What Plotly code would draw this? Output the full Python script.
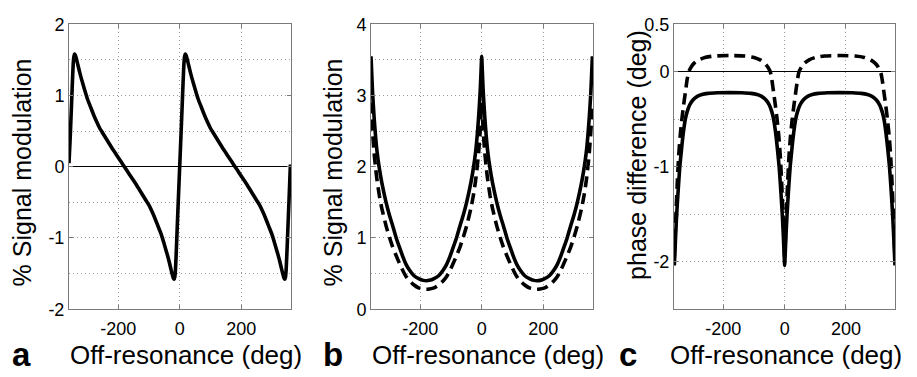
import plotly.graph_objects as go

# ---------------- data ----------------
# Panel a: % signal modulation (solid)
a_x = [-360, -356, -352, -349, -346, -344, -342, -339, -335, -330, -325, -320, -310, -300, -290, -280, -270,
       -260, -250, -240, -230, -220, -210, -200, -190, -180,
       -170, -160, -150, -140, -130, -120, -110, -100, -90, -80, -70, -60, -50, -40, -35, -30, -25, -21,
       -18, -16, -14, -11, -8, -4, 0,
       4, 8, 11, 14, 16, 18, 21, 25, 30, 35, 40, 50, 60, 70, 80, 90, 100, 110, 120, 130, 140, 150, 160, 170, 180,
       190, 200, 210, 220, 230, 240, 250, 260, 270, 280, 290, 300, 310, 320, 325, 330, 335, 339, 342, 344,
       346, 349, 352, 356, 360]
a_y = [0.05, 0.42, 0.85, 1.18, 1.46, 1.55, 1.58, 1.56, 1.50, 1.41, 1.32, 1.24, 1.09, 0.95, 0.84, 0.73, 0.63,
       0.54, 0.47, 0.40, 0.33, 0.26, 0.195, 0.13, 0.065, 0,
       -0.065, -0.13, -0.195, -0.26, -0.33, -0.40, -0.47, -0.54, -0.63, -0.73, -0.84, -0.95, -1.09, -1.24,
       -1.32, -1.41, -1.50, -1.56, -1.58, -1.55, -1.46, -1.18, -0.85, -0.42, 0,
       0.42, 0.85, 1.18, 1.46, 1.55, 1.58, 1.56, 1.50, 1.41, 1.32, 1.24, 1.09, 0.95, 0.84, 0.73, 0.63, 0.54,
       0.47, 0.40, 0.33, 0.26, 0.195, 0.13, 0.065, 0,
       -0.065, -0.13, -0.195, -0.26, -0.33, -0.40, -0.47, -0.54, -0.63, -0.73, -0.84, -0.95, -1.09, -1.24,
       -1.32, -1.41, -1.50, -1.56, -1.58, -1.55, -1.46, -1.18, -0.85, -0.42, 0.03]

# Panel b: % signal modulation, solid and dashed
b_x = [-360, -358, -355, -350, -345, -340, -333, -325, -311, -300, -290, -278, -265, -255, -246, -235, -220,
       -205, -190, -180,
       -170, -155, -140, -125, -114, -105, -95, -82, -70, -60, -49, -35, -27, -20, -15, -10, -5, -2, 0,
       2, 5, 10, 15, 20, 27, 35, 49, 60, 70, 82, 95, 105, 114, 125, 140, 155, 170, 180,
       190, 205, 220, 235, 246, 255, 265, 278, 290, 300, 311, 325, 333, 340, 345, 350, 355, 358, 360]
b_solid = [3.55, 3.35, 3.05, 2.7, 2.42, 2.2, 1.98, 1.78, 1.5, 1.32, 1.18, 1.0, 0.84, 0.72, 0.63, 0.55, 0.47,
           0.43, 0.405, 0.40,
           0.405, 0.43, 0.47, 0.55, 0.63, 0.72, 0.84, 1.0, 1.18, 1.32, 1.5, 1.78, 1.98, 2.2, 2.42, 2.7, 3.05,
           3.35, 3.55,
           3.35, 3.05, 2.7, 2.42, 2.2, 1.98, 1.78, 1.5, 1.32, 1.18, 1.0, 0.84, 0.72, 0.63, 0.55, 0.47, 0.43,
           0.405, 0.40,
           0.405, 0.43, 0.47, 0.55, 0.63, 0.72, 0.84, 1.0, 1.18, 1.32, 1.5, 1.78, 1.98, 2.2, 2.42, 2.7, 3.05,
           3.35, 3.55]
b_dash = [2.9, 2.75, 2.5, 2.2, 1.98, 1.8, 1.6, 1.42, 1.17, 1.01, 0.88, 0.75, 0.62, 0.53, 0.46, 0.4, 0.34,
          0.3, 0.285, 0.28,
          0.285, 0.3, 0.34, 0.4, 0.46, 0.53, 0.62, 0.75, 0.88, 1.01, 1.17, 1.42, 1.6, 1.8, 1.98, 2.2, 2.5,
          2.75, 2.9,
          2.75, 2.5, 2.2, 1.98, 1.8, 1.6, 1.42, 1.17, 1.01, 0.88, 0.75, 0.62, 0.53, 0.46, 0.4, 0.34, 0.3,
          0.285, 0.28,
          0.285, 0.3, 0.34, 0.4, 0.46, 0.53, 0.62, 0.75, 0.88, 1.01, 1.17, 1.42, 1.6, 1.8, 1.98, 2.2, 2.5,
          2.75, 2.9]

# Panel c: phase difference (deg), solid and dashed
c_solid_x = [-360, -358, -356, -353, -350, -346, -342, -336, -330, -324, -318, -310, -300, -285, -270, -250,
             -220, -180,
             -140, -110, -90, -75, -60, -50, -42, -36, -30, -24, -18, -14, -10, -7, -4, -2, 0,
             2, 4, 7, 10, 14, 18, 24, 30, 36, 42, 50, 60, 75, 90, 110, 140, 180,
             220, 250, 270, 285, 300, 310, 318, 324, 330, 336, 342, 346, 350, 353, 356, 358, 360]
c_solid_y = [-2.04, -1.9, -1.75, -1.55, -1.38, -1.18, -1.0, -0.8, -0.63, -0.5, -0.42, -0.35, -0.3, -0.26,
             -0.24, -0.228, -0.222, -0.22,
             -0.222, -0.228, -0.24, -0.26, -0.3, -0.35, -0.42, -0.5, -0.63, -0.8, -1.0, -1.18, -1.38, -1.55,
             -1.75, -1.9, -2.04,
             -1.9, -1.75, -1.55, -1.38, -1.18, -1.0, -0.8, -0.63, -0.5, -0.42, -0.35, -0.3, -0.26, -0.24,
             -0.228, -0.222, -0.22,
             -0.222, -0.228, -0.24, -0.26, -0.3, -0.35, -0.42, -0.5, -0.63, -0.8, -1.0, -1.18, -1.38, -1.55,
             -1.75, -1.9, -2.04]
c_dash_x = [-360, -357, -354, -350, -346, -341, -336, -330, -324, -318, -313, -305, -295, -280, -260, -230, -180,
            -130, -100, -80, -65, -55, -47, -42, -36, -30, -24, -19, -14, -10, -6, -3, 0,
            3, 6, 10, 14, 19, 24, 30, 36, 42, 47, 55, 65, 80, 100, 130, 180,
            230, 260, 280, 295, 305, 313, 318, 324, 330, 336, 341, 346, 350, 354, 357, 360]
c_dash_y = [-1.95, -1.7, -1.45, -1.15, -0.9, -0.68, -0.52, -0.36, -0.22, -0.08, 0.0, 0.05, 0.09, 0.125, 0.15,
            0.165, 0.17,
            0.165, 0.15, 0.125, 0.09, 0.05, 0.0, -0.08, -0.22, -0.36, -0.52, -0.68, -0.9, -1.15, -1.45, -1.7, -1.95,
            -1.7, -1.45, -1.15, -0.9, -0.68, -0.52, -0.36, -0.22, -0.08, 0.0, 0.05, 0.09, 0.125, 0.15, 0.165, 0.17,
            0.165, 0.15, 0.125, 0.09, 0.05, 0.0, -0.08, -0.22, -0.36, -0.52, -0.68, -0.9, -1.15, -1.45, -1.7, -1.95]

# Tick labels
x_tickvals = [-200, 0, 200]
x_ticktext = ["-200", "0", "200"]
a_tickvals = [-2, -1, 0, 1, 2]
a_ticktext = ["-2", "-1", "0", "1", "2"]
a_minor = [-1.5, -0.5, 0.5, 1.5]
b_tickvals = [0, 1, 2, 3, 4]
b_ticktext = ["0", "1", "2", "3", "4"]
b_minor = [0.5, 1.5, 2.5, 3.5]
c_tickvals = [-2, -1, 0, 0.5]
c_ticktext = ["-2", "-1", "0", "0.5"]
c_minor = [-2.5, -1.5, -0.5]

x_title = "Off-resonance (deg)"
a_ytitle = "% Signal modulation"
c_ytitle = "phase difference (deg)"
panel_letters = ["a", "b", "c"]

# ---------------- layout ----------------
W, H = 917, 377
FONT = "Liberation Sans, Arial, Helvetica, sans-serif"
AXC = "#7a7a7a"
GRIDC = "#9a9a9a"
GDASH = "1px,3px"

def px_x(p):
    return p / W

def px_y(p):
    return 1 - p / H

panels = [  # (left, right) in px
    (69, 291),
    (371, 593),
    (674, 895),
]
top, bottom = 15, 316

fig = go.Figure()

line_solid = dict(color="black", width=3.6, shape="spline", smoothing=0.6)
line_dash = dict(color="black", width=3.6, dash="11px,6px", shape="spline", smoothing=0.6)

fig.add_trace(go.Scatter(x=a_x, y=a_y, mode="lines", line=line_solid, xaxis="x", yaxis="y"))
fig.add_trace(go.Scatter(x=b_x, y=b_dash, mode="lines", line=line_dash, xaxis="x2", yaxis="y2"))
fig.add_trace(go.Scatter(x=b_x, y=b_solid, mode="lines", line=line_solid, xaxis="x2", yaxis="y2"))
fig.add_trace(go.Scatter(x=c_dash_x, y=c_dash_y, mode="lines", line=line_dash, xaxis="x3", yaxis="y3"))
fig.add_trace(go.Scatter(x=c_solid_x, y=c_solid_y, mode="lines", line=line_solid, xaxis="x3", yaxis="y3"))

tickfont = dict(family=FONT, size=18, color="black")

def xaxis(dom, rng):
    return dict(domain=dom, range=rng, tickmode="array", tickvals=x_tickvals, ticktext=x_ticktext,
                showgrid=True, gridcolor=GRIDC, griddash=GDASH, gridwidth=1,
                showline=True, linecolor=AXC, linewidth=1, mirror="ticks",
                ticks="inside", ticklen=4, tickcolor=AXC, tickfont=tickfont, ticklabelstandoff=3,
                zeroline=False, fixedrange=True)

def yaxis(anchor, rng, tv, tt, minor, zero):
    return dict(domain=[px_y(bottom), px_y(top)], range=rng, anchor=anchor,
                tickmode="array", tickvals=tv, ticktext=tt,
                showgrid=True, gridcolor=GRIDC, griddash=GDASH, gridwidth=1,
                minor=dict(tickmode="array", tickvals=minor, showgrid=True, gridcolor=GRIDC,
                           griddash=GDASH, gridwidth=1, ticks=""),
                showline=True, linecolor=AXC, linewidth=1, mirror="ticks",
                ticks="inside", ticklen=4, tickcolor=AXC, tickfont=tickfont,
                zeroline=zero, zerolinecolor="black", zerolinewidth=1.2, fixedrange=True)

layout = dict(
    width=W, height=H, margin=dict(l=0, r=0, t=0, b=0),
    paper_bgcolor="white", plot_bgcolor="white", showlegend=False,
    font=dict(family=FONT, color="black"),
    xaxis=xaxis([px_x(panels[0][0]), px_x(panels[0][1])], [-360, 362]) | dict(anchor="y"),
    xaxis2=xaxis([px_x(panels[1][0]), px_x(panels[1][1])], [-360, 362]) | dict(anchor="y2"),
    xaxis3=xaxis([px_x(panels[2][0]), px_x(panels[2][1])], [-361, 360]) | dict(anchor="y3"),
    yaxis=yaxis("x", [-2, 2], a_tickvals, a_ticktext, a_minor, True),
    yaxis2=yaxis("x2", [0, 4], b_tickvals, b_ticktext, b_minor, False),
    yaxis3=yaxis("x3", [-2.5, 0.5], c_tickvals, c_ticktext, c_minor, True),
)
fig.update_layout(**layout)

title_font = dict(family=FONT, size=26, color="black")
ytitle_font = dict(family=FONT, size=25, color="black")
letter_font = dict(family=FONT, size=33, color="black")
ann = []
# x titles
for cx in (186, 487.5, 786):
    ann.append(dict(text=x_title, x=px_x(cx), y=px_y(364), xref="paper", yref="paper",
                    xanchor="center", yanchor="middle", showarrow=False, font=title_font))
# y titles
for cx, cy, t in ((22, 171.5, a_ytitle), (333, 171.5, a_ytitle), (637, 153, c_ytitle)):
    ann.append(dict(text=t, x=px_x(cx), y=px_y(cy), xref="paper", yref="paper", textangle=-90,
                    xanchor="center", yanchor="middle", showarrow=False, font=ytitle_font))
# panel letters
for cx, t in ((21, panel_letters[0]), (333, panel_letters[1]), (627.5, panel_letters[2])):
    ann.append(dict(text="<b>" + t + "</b>", x=px_x(cx), y=px_y(363.5), xref="paper", yref="paper",
                    xanchor="center", yanchor="middle", showarrow=False, font=letter_font))
fig.update_layout(annotations=ann)

fig.write_html("out.html")
